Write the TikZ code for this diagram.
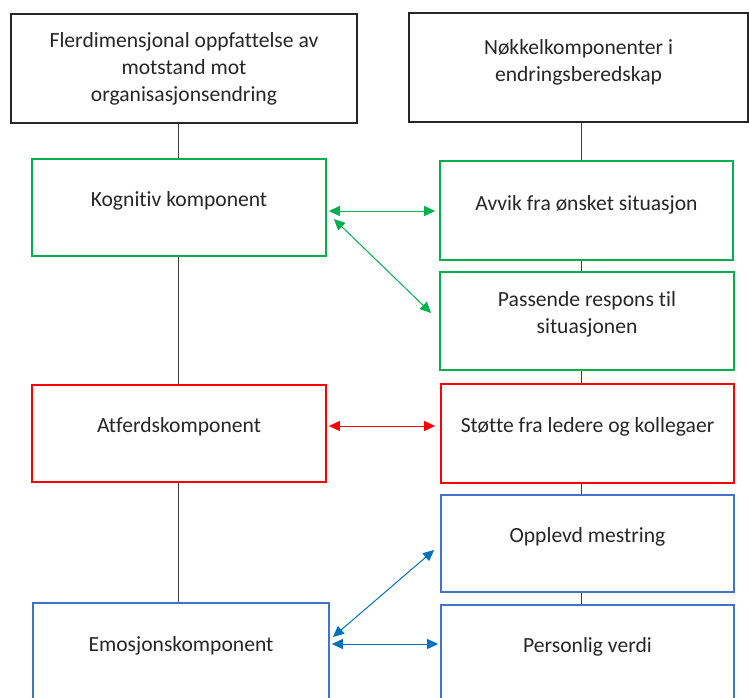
\documentclass[tikz,border=0pt]{standalone}
\usepackage{fontspec}
\setmainfont{Carlito}[Ligatures=NoCommon]
\usetikzlibrary{arrows.meta}
\definecolor{wgreen}{RGB}{0,176,80}
\definecolor{wred}{RGB}{255,0,0}
\definecolor{wblue}{RGB}{68,114,196}
\definecolor{ablue}{RGB}{0,112,192}
\definecolor{lgray}{RGB}{64,64,64}
\begin{document}
\begin{tikzpicture}[x=1pt,y=-1pt,
  box/.style={draw,line width=1.8pt,minimum width=#1,inner sep=0pt},
  boxk/.style={box=#1,draw=black!85},
  boxg/.style={box=#1,draw=wgreen},
  boxr/.style={box=#1,draw=wred},
  boxb/.style={box=#1,draw=wblue},
  lbl/.style={align=center,inner sep=0pt,yshift=-2pt,font=\fontsize{21.6}{27}\selectfont,text=black!85},
  conn/.style={draw=lgray,line width=1pt},
  dbl/.style={line width=1pt,{Triangle[length=11pt,width=10pt]}-{Triangle[length=11pt,width=10pt]}},
]
\useasboundingbox (0,0) rectangle (749,698);
\clip (0,0) rectangle (749,698);
% left column
\node[boxk=346pt,minimum height=109pt] (b1) at (184,68.5) {};
\node[lbl] (t1) at (184,67) {Flerdimensjonal oppfattelse av\\motstand mot\\organisasjonsendring};
\node[boxg=294pt,minimum height=97pt] (kog) at (179,207.5) {};
\node[lbl] (tkog) at (179,199) {Kognitiv komponent};
\node[boxr=294pt,minimum height=97pt] (atf) at (179,433.5) {};
\node[lbl] (tatf) at (179,425) {Atferdskomponent};
\node[boxb=296pt,minimum height=97pt] (emo) at (181,651.5) {};
\node[lbl] (temo) at (181,644) {Emosjonskomponent};
% right column
\node[boxk=339pt,minimum height=109pt] (b2) at (578.5,67.5) {};
\node[lbl] (t2) at (578.5,60) {Nøkkelkomponenter i\\endringsberedskap};
\node[boxg=293pt,minimum height=99pt] (avv) at (586.5,210.5) {};
\node[lbl] (tavv) at (586.5,203) {Avvik fra ønsket situasjon};
\node[boxg=294pt,minimum height=98pt] (pas) at (587,321) {};
\node[lbl] (tpas) at (587,312) {Passende respons til\\situasjonen};
\node[boxr=293pt,minimum height=99pt] (sto) at (587.5,433.5) {};
\node[lbl] (tsto) at (587.5,425) {Støtte fra ledere og kollegaer};
\node[boxb=293pt,minimum height=97pt] (opp) at (587.5,543.5) {};
\node[lbl] (topp) at (587.5,535) {Opplevd mestring};
\node[boxb=293pt,minimum height=97pt] (per) at (587.5,653.5) {};
\node[lbl] (tper) at (587.5,645) {Personlig verdi};
% connectors
\draw[conn] ([xshift=-6pt]b1.south) -- ([xshift=-6pt]b1.south |- kog.north);
\draw[conn] ([xshift=-1pt]kog.south) -- ([xshift=-1pt]kog.south |- atf.north);
\draw[conn] ([xshift=-1pt]atf.south) -- ([xshift=-1pt]atf.south |- emo.north);
\draw[conn] ([xshift=2.5pt]b2.south) -- ([xshift=2.5pt]b2.south |- avv.north);
\draw[conn] ([xshift=2.5pt]b2.south |- avv.south) -- ([xshift=2.5pt]b2.south |- pas.north);
\draw[conn] ([xshift=2.5pt]b2.south |- pas.south) -- ([xshift=2.5pt]b2.south |- sto.north);
\draw[conn] ([xshift=2.5pt]b2.south |- sto.south) -- ([xshift=2.5pt]b2.south |- opp.north);
\draw[conn] ([xshift=2.5pt]b2.south |- opp.south) -- ([xshift=2.5pt]b2.south |- per.north);
% arrows
\draw[dbl,wgreen] ([shift={(2,3.5)}]kog.east) -- ([shift={(-4,0.5)}]avv.west);
\draw[dbl,wgreen] ([shift={(7,11.5)}]kog.east) -- ([shift={(-8,-8)}]pas.west);
\draw[dbl,wred] ([shift={(2,-7.5)}]atf.east) -- ([shift={(-5,-7.5)}]sto.west);
\draw[dbl,ablue] ([shift={(3,-14.5)}]emo.east) -- ([shift={(-6,6.5)}]opp.west);
\draw[dbl,ablue] ([shift={(2,-7.5)}]emo.east) -- ([shift={(-2,-9.5)}]per.west);
\end{tikzpicture}
\end{document}
